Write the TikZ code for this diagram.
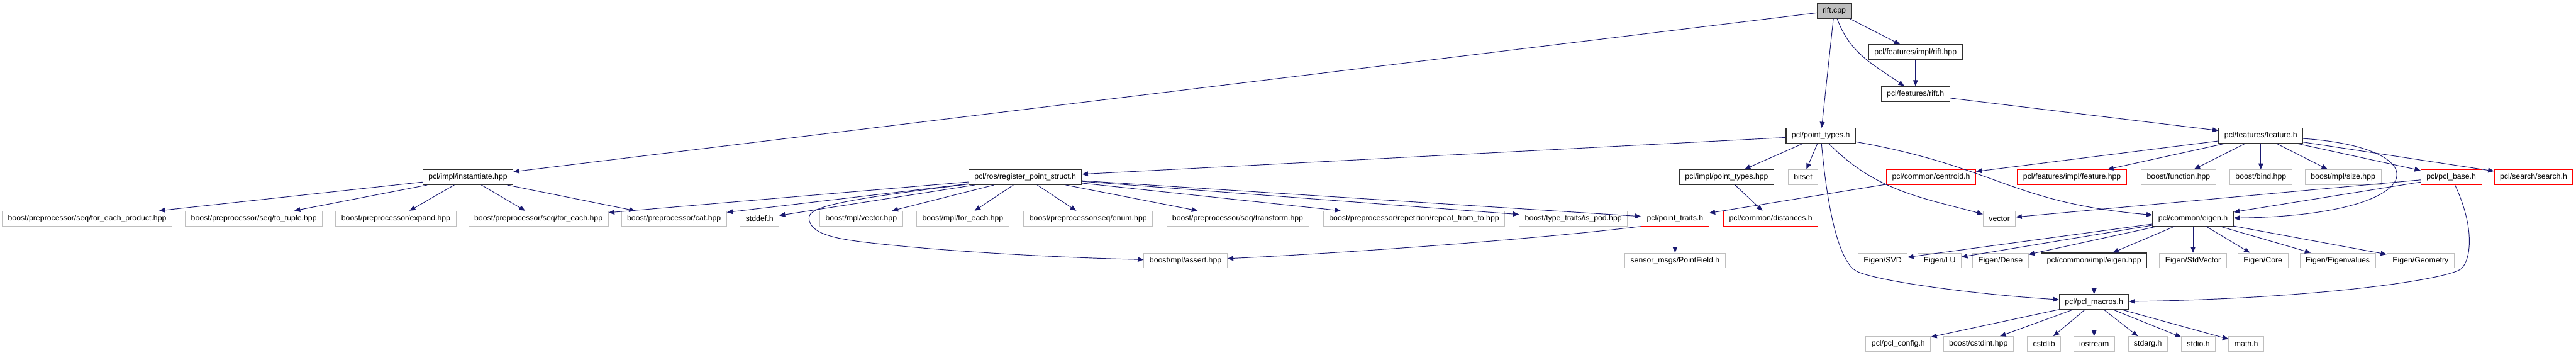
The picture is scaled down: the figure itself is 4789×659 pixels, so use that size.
\documentclass[tikz,border=0pt]{standalone}
\usepackage{fontspec}
\setmainfont{Liberation Sans}
\usepackage{tikz}
\usetikzlibrary{arrows.meta}
\usepackage{xcolor}
\definecolor{EdgeNavy}{HTML}{191970}
\definecolor{ExtGrey}{HTML}{BFBFBF}
\definecolor{CutRed}{HTML}{FF0000}
\definecolor{DocBlack}{HTML}{303030}

\tikzset{
  file/.style={draw=DocBlack,line width=1.3pt,fill=white,inner xsep=10.5pt,inner ysep=0pt,minimum height=28pt,font=\fontsize{14.4}{16}\selectfont},
  extfile/.style={file,draw=ExtGrey,line width=1.1pt},
  cutfile/.style={file,draw=CutRed,line width=1.1pt},
  rootfile/.style={file,fill=ExtGrey},
  dep/.style={EdgeNavy,line width=1.1pt,-{Triangle[length=11pt,width=9pt]}}
}

\begin{document}
\begin{tikzpicture}[x=1pt,y=-1pt]
  \useasboundingbox (0,0) rectangle (4789,659);

  \node[rootfile] (rift) at (3410,20) {rift.cpp};
  \node[file] (riftimpl) at (3561,97) {pcl/features/impl/rift.hpp};
  \node[file] (rifth) at (3561,174.5) {pcl/features/rift.h};
  \node[file] (ptypes) at (3385,252) {pcl/point\_types.h};
  \node[file] (feat) at (4203,252) {pcl/features/feature.h};

  \node[file] (inst) at (870,329) {pcl/impl/instantiate.hpp};
  \node[file] (regps) at (1906,329) {pcl/ros/register\_point\_struct.h};
  \node[file] (ptypesimpl) at (3210,329) {pcl/impl/point\_types.hpp};
  \node[extfile] (bitset) at (3352,329) {bitset};
  \node[cutfile] (centroid) at (3590,329) {pcl/common/centroid.h};
  \node[cutfile] (featimpl) at (3852,329) {pcl/features/impl/feature.hpp};
  \node[extfile] (bfunction) at (4050,329) {boost/function.hpp};
  \node[extfile] (bbind) at (4203,329) {boost/bind.hpp};
  \node[extfile] (bsize) at (4356,329) {boost/mpl/size.hpp};
  \node[cutfile] (pclbase) at (4557,329) {pcl/pcl\_base.h};
  \node[cutfile] (search) at (4710,329) {pcl/search/search.h};

  \node[extfile] (fep) at (162,406) {boost/preprocessor/seq/for\_each\_product.hpp};
  \node[extfile] (totuple) at (472,406) {boost/preprocessor/seq/to\_tuple.hpp};
  \node[extfile] (expand) at (736,406) {boost/preprocessor/expand.hpp};
  \node[extfile] (foreach) at (1001,406) {boost/preprocessor/seq/for\_each.hpp};
  \node[extfile] (cat) at (1253,406) {boost/preprocessor/cat.hpp};
  \node[extfile] (stddef) at (1412,406) {stddef.h};
  \node[extfile] (mplvector) at (1601,406) {boost/mpl/vector.hpp};
  \node[extfile] (mplforeach) at (1790,406) {boost/mpl/for\_each.hpp};
  \node[extfile] (seqenum) at (2023,406) {boost/preprocessor/seq/enum.hpp};
  \node[extfile] (seqtransform) at (2301,406) {boost/preprocessor/seq/transform.hpp};
  \node[extfile] (repeat) at (2629,406) {boost/preprocessor/repetition/repeat\_from\_to.hpp};
  \node[extfile] (ispod) at (2925,406) {boost/type\_traits/is\_pod.hpp};
  \node[cutfile] (ptraits) at (3114,406) {pcl/point\_traits.h};
  \node[cutfile] (dist) at (3292,406) {pcl/common/distances.h};
  \node[extfile] (vector) at (3717,406) {vector};
  \node[file] (eigen) at (4077,406) {pcl/common/eigen.h};

  \node[extfile] (assert) at (2204,484) {boost/mpl/assert.hpp};
  \node[extfile] (pfield) at (3114,484) {sensor\_msgs/PointField.h};
  \node[extfile] (esvd) at (3500,484) {Eigen/SVD};
  \node[extfile] (elu) at (3606,484) {Eigen/LU};
  \node[extfile] (edense) at (3719,484) {Eigen/Dense};
  \node[file] (eigenimpl) at (3893,484) {pcl/common/impl/eigen.hpp};
  \node[extfile] (estdvec) at (4077,484) {Eigen/StdVector};
  \node[extfile] (ecore) at (4207,484) {Eigen/Core};
  \node[extfile] (eeigval) at (4346,484) {Eigen/Eigenvalues};
  \node[extfile] (egeom) at (4500,484) {Eigen/Geometry};

  \node[file] (macros) at (3893,561) {pcl/pcl\_macros.h};

  \node[extfile] (config) at (3529,639) {pcl/pcl\_config.h};
  \node[extfile] (cstdint) at (3678,639) {boost/cstdint.hpp};
  \node[extfile] (cstdlib) at (3800,639) {cstdlib};
  \node[extfile] (iostream) at (3893,639) {iostream};
  \node[extfile] (stdarg) at (3993,639) {stdarg.h};
  \node[extfile] (stdio) at (4087,639) {stdio.h};
  \node[extfile] (mathh) at (4176,639) {math.h};

  \foreach \t in {inst,riftimpl,ptypes} \draw[dep] (rift) -- (\t);
  \draw[dep] (rift) to[out=-70,in=145] (rifth);
  \draw[dep] (riftimpl) -- (rifth);
  \draw[dep] (rifth) -- (feat);
  \foreach \t in {regps,ptypesimpl,bitset} \draw[dep] (ptypes) -- (\t);
  \draw[dep] (ptypes) to[out=-45,in=165] (vector);
  \draw[dep] (ptypes) to[out=-10,in=175,looseness=1.2] (eigen);
  \draw[dep] (ptypes) .. controls (3400,420) and (3425,488) .. (3450,503) .. controls (3480,520) and (3650,545) .. (macros);
  \foreach \t in {fep,totuple,expand,foreach,cat} \draw[dep] (inst) -- (\t);
  \foreach \t in {foreach,cat,stddef,mplvector,mplforeach,seqenum,seqtransform,repeat,ispod,ptraits} \draw[dep] (regps) -- (\t);
  \draw[dep] (regps) .. controls (1560,372) and (1502,384) .. (1504,406) .. controls (1506,432) and (1545,442) .. (1600,449) .. controls (1740,466) and (1950,478) .. (assert);
  \draw[dep] (ptypesimpl) -- (dist);
  \draw[dep] (centroid) -- (ptraits);
  \draw[dep] (ptraits) -- (pfield);
  \draw[dep] (ptraits.south west) .. controls (2850,445) and (2500,470) .. (assert);
  \foreach \t in {centroid,featimpl,bfunction,bbind,bsize,pclbase,search} \draw[dep] (feat) -- (\t);
  \draw[dep] (feat) .. controls (4540,275) and (4520,400) .. (eigen);
  \foreach \t in {vector,eigen} \draw[dep] (pclbase) -- (\t);
  \draw[dep] (pclbase) .. controls (4600,420) and (4595,480) .. (4576,499) .. controls (4550,520) and (4300,555) .. (macros);
  \foreach \t in {esvd,elu,edense,eigenimpl,estdvec,ecore,eeigval,egeom} \draw[dep] (eigen) -- (\t);
  \draw[dep] (eigenimpl) -- (macros);
  \foreach \t in {config,cstdint,cstdlib,iostream,stdarg,stdio,mathh} \draw[dep] (macros) -- (\t);
\end{tikzpicture}
\end{document}
